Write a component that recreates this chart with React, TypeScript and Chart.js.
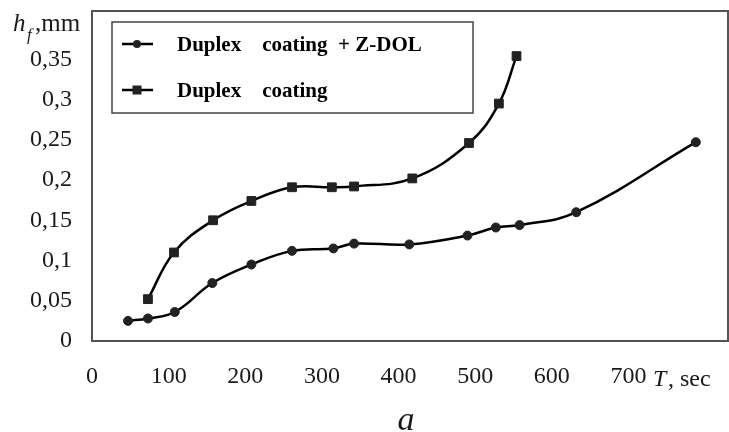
import React, { useEffect, useRef } from "react";
import { Chart, registerables } from "chart.js";

Chart.register(...registerables);

// Duplex coating + Z-DOL (circles)
const timesZDol = [47, 73, 108, 157, 208, 261, 315, 342, 414, 490, 527, 558, 632, 788];
const wearZDol = [0.025, 0.028, 0.036, 0.072, 0.095, 0.112, 0.115, 0.121, 0.12, 0.131, 0.141, 0.144, 0.16, 0.247];

// Duplex coating (squares)
const timesDuplex = [73, 107, 158, 208, 261, 313, 342, 418, 492, 531, 554];
const wearDuplex = [0.052, 0.11, 0.15, 0.174, 0.191, 0.191, 0.192, 0.202, 0.246, 0.295, 0.354];

const seriesNames = ["Duplex    coating  + Z-DOL", "Duplex    coating"];

const xTickValues = [0, 100, 200, 300, 400, 500, 600, 700];
const yTickValues = [0, 0.05, 0.1, 0.15, 0.2, 0.25, 0.3, 0.35];
const yTickLabels = ["0", "0,05", "0,1", "0,15", "0,2", "0,25", "0,3", "0,35"];

const SERIF = "'Liberation Serif', 'Times New Roman', serif";
const TEXT = "#1a1a1a";

const decorPlugin = {
  id: "decor",
  afterDraw(chart: any) {
    const ctx = chart.ctx as CanvasRenderingContext2D;
    const a = chart.chartArea;
    ctx.save();
    // plot frame
    ctx.strokeStyle = "#555";
    ctx.lineWidth = 2;
    ctx.strokeRect(a.left, a.top, a.right - a.left, a.bottom - a.top);

    // legend box
    ctx.strokeStyle = "#444";
    ctx.lineWidth = 1.5;
    ctx.strokeRect(112, 22, 361, 91);

    const rows = [44, 90];
    chart.data.datasets.forEach((ds: any, i: number) => {
      const y = rows[i];
      ctx.strokeStyle = "#000";
      ctx.lineWidth = 2.5;
      ctx.beginPath();
      ctx.moveTo(122, y);
      ctx.lineTo(153, y);
      ctx.stroke();
      ctx.fillStyle = "#222";
      if (i === 0) {
        ctx.beginPath();
        ctx.arc(137, y, 4, 0, Math.PI * 2);
        ctx.fill();
      } else {
        ctx.fillRect(132.5, y - 4.5, 9, 9);
      }
      ctx.fillStyle = "#000";
      ctx.font = `bold 21px ${SERIF}`;
      ctx.textBaseline = "alphabetic";
      ctx.textAlign = "left";
      ctx.fillText(ds.label, 177, y + 7);
    });

    // y-axis title h_f ,mm
    ctx.fillStyle = TEXT;
    ctx.font = `italic 25px ${SERIF}`;
    ctx.fillText("h", 13, 31);
    ctx.font = `italic 17px ${SERIF}`;
    ctx.fillText("f", 27, 40);
    ctx.font = `25px ${SERIF}`;
    ctx.fillText(",mm", 35, 31);

    // x-axis title T, sec
    ctx.font = `italic 24px ${SERIF}`;
    ctx.fillText("T", 653, 386);
    ctx.font = `24px ${SERIF}`;
    ctx.fillText(", sec", 668, 386);

    // panel label a
    ctx.font = `italic 34px ${SERIF}`;
    ctx.textAlign = "center";
    ctx.fillText("a", 406, 430);
    ctx.restore();
  },
};

export default function App() {
  const ref = useRef<HTMLCanvasElement | null>(null);

  useEffect(() => {
    document.body.style.margin = "0";
    const canvas = ref.current;
    if (!canvas) return;
    const makeData = (xs: number[], ys: number[]) => xs.map((x, i) => ({ x, y: ys[i] }));
    const chart = new Chart(canvas, {
      type: "line",
      data: {
        datasets: [
          {
            label: seriesNames[0],
            data: makeData(timesZDol, wearZDol),
            borderColor: "#000",
            borderWidth: 2.5,
            pointStyle: "circle",
            pointRadius: 4.5,
            pointBackgroundColor: "#222",
            pointBorderColor: "#222",
            pointBorderWidth: 1,
            tension: 0.4,
            fill: false,
          },
          {
            label: seriesNames[1],
            data: makeData(timesDuplex, wearDuplex),
            borderColor: "#000",
            borderWidth: 2.5,
            pointStyle: "rect",
            pointRadius: 6.2,
            pointBackgroundColor: "#222",
            pointBorderColor: "#222",
            pointBorderWidth: 1,
            tension: 0.4,
            fill: false,
          },
        ],
      },
      options: {
        animation: false,
        responsive: false,
        events: [],
        layout: { autoPadding: false, padding: { top: 11, right: 1, left: 0, bottom: 0 } },
        plugins: {
          legend: { display: false },
          tooltip: { enabled: false },
        },
        scales: {
          x: {
            type: "linear",
            min: 0,
            max: 830,
            grid: { display: false, drawTicks: false },
            border: { display: false },
            ticks: {
              padding: 21,
              color: TEXT,
              font: { family: SERIF, size: 24 },
              maxRotation: 0,
              autoSkip: false,
              callback: (v: any) => String(v),
            },
            afterBuildTicks: (s: any) => {
              s.ticks = xTickValues.map((v) => ({ value: v }));
            },
            afterFit: (s: any) => {
              s.height = 91;
              s.paddingLeft = 0;
              s.paddingRight = 0;
              s.paddingTop = 0;
              s.paddingBottom = 0;
            },
          },
          y: {
            type: "linear",
            min: 0,
            max: 0.41,
            grid: { display: false, drawTicks: false },
            border: { display: false },
            ticks: {
              padding: 20,
              color: TEXT,
              font: { family: SERIF, size: 24 },
              autoSkip: false,
              callback: (v: any) => {
                const idx = yTickValues.findIndex((t) => Math.abs(t - v) < 1e-9);
                return idx >= 0 ? yTickLabels[idx] : "";
              },
            },
            afterBuildTicks: (s: any) => {
              s.ticks = yTickValues.map((v) => ({ value: v }));
            },
            afterFit: (s: any) => {
              s.width = 92;
              s.paddingLeft = 0;
              s.paddingRight = 0;
              s.paddingTop = 0;
              s.paddingBottom = 0;
            },
          },
        },
      },
      plugins: [decorPlugin],
    });
    return () => chart.destroy();
  }, []);

  return (
    <div style={{ width: 729, height: 432, background: "#fff" }}>
      <canvas ref={ref} width={729} height={432} style={{ display: "block" }} />
    </div>
  );
}
